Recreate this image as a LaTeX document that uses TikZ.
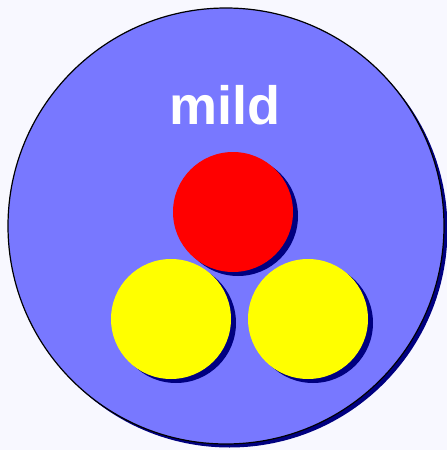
\documentclass[tikz,border=0pt]{standalone}
\usepackage{fontspec}
\setmainfont{Liberation Sans}
\definecolor{bgc}{HTML}{F8F8FF}
\definecolor{bigc}{HTML}{7878FF}
\definecolor{shad}{HTML}{000080}
\definecolor{yel}{HTML}{FFFF00}
\definecolor{redc}{HTML}{FF0000}
\begin{document}
\begin{tikzpicture}[x=1pt,y=-1pt,
  ball/.style={circle, minimum size=120pt, inner sep=0pt},
  ballshadow/.style={circle, minimum size=120pt, inner sep=0pt, fill=shad}]
\fill[bgc] (0,0) rectangle (447,450);
\useasboundingbox (0,0) rectangle (447,450);
% big circle
\node[circle, minimum size=436pt, inner sep=0pt, fill=shad] (bigshadow) at (229.5,229.5) {};
\node[circle, minimum size=436pt, inner sep=0pt, fill=bigc, draw=black, line width=1.2pt] (big) at (226,226) {};
\node[text=white, font=\bfseries\fontsize{54}{62}\selectfont, anchor=base] (label) at (225,124) {mild};
% red
\node[ballshadow] (redshadow) at (238,216) {};
\node[ball, fill=redc] (red) at (233,212) {};
% yellow
\node[ballshadow] (y1shadow) at (176,323) {};
\node[ball, fill=yel] (y1) at (171,319) {};
\node[ballshadow] (y2shadow) at (313,323) {};
\node[ball, fill=yel] (y2) at (308,319) {};
\end{tikzpicture}
\end{document}
